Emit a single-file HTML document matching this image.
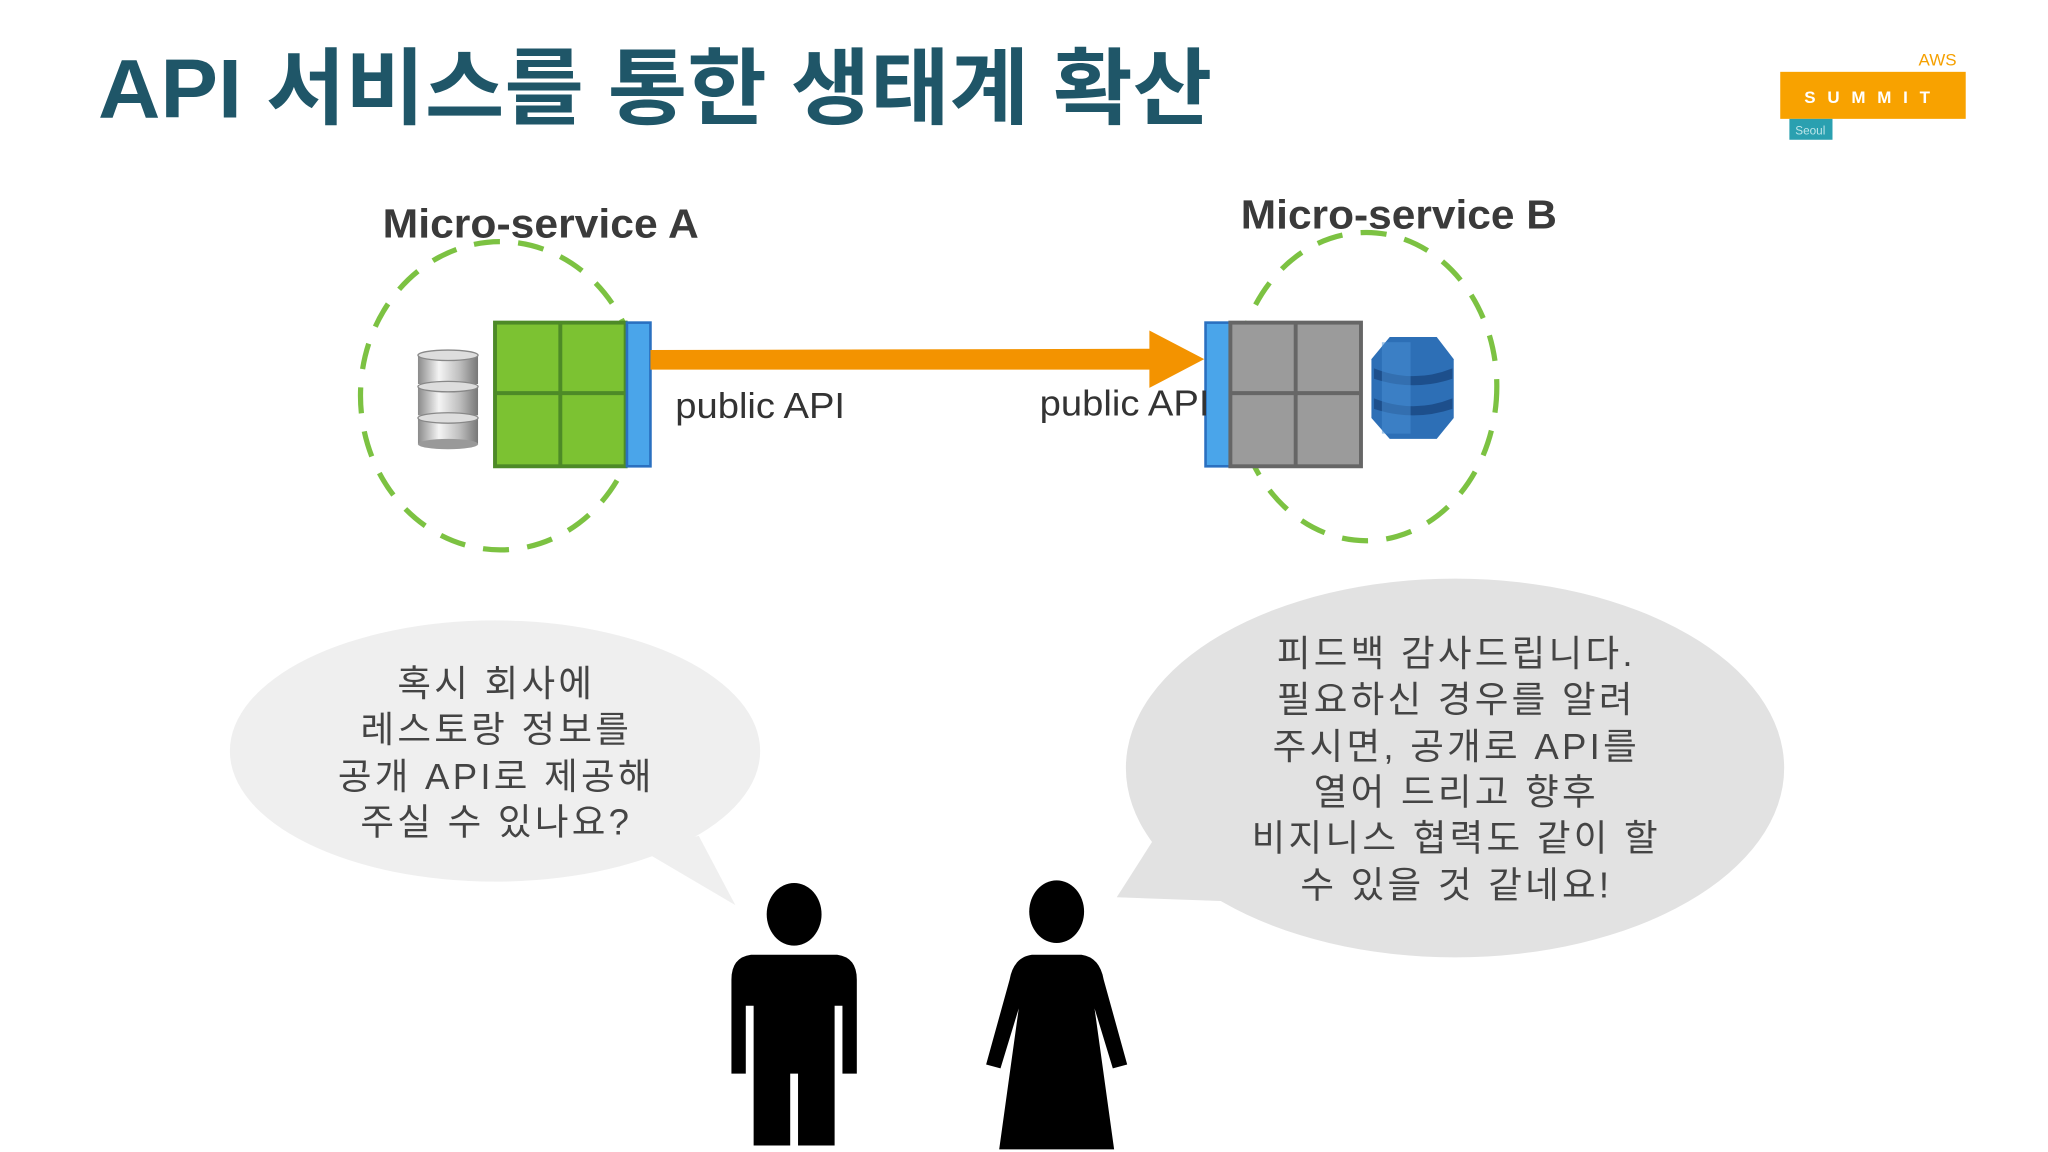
<!DOCTYPE html>
<html><head><meta charset="utf-8"><style>
html,body{margin:0;padding:0;background:#fff;width:2048px;height:1152px;overflow:hidden}
svg{display:block}
</style></head><body>
<svg width="2048" height="1152" viewBox="0 0 1568 882" xmlns="http://www.w3.org/2000/svg">
<defs>
<linearGradient id="cyl" x1="0" x2="1" y1="0" y2="0">
<stop offset="0" stop-color="#8a8a8a"/><stop offset="0.35" stop-color="#f4f4f4"/><stop offset="0.7" stop-color="#bdbdbd"/><stop offset="1" stop-color="#777"/>
</linearGradient>
</defs>
<rect width="1568" height="882" fill="#fff"/>
<!-- title -->
<text x="75" y="90" font-family="'Liberation Sans','Noto Sans CJK KR',sans-serif" font-weight="bold" font-size="64" fill="#1f5668" textLength="853" lengthAdjust="spacingAndGlyphs">API 서비스를 통한 생태계 확산</text>
<!-- logo -->
<text x="1498" y="50" text-anchor="end" font-family="'Liberation Sans',sans-serif" font-size="13" fill="#f5a000">AWS</text>
<rect x="1363" y="55" width="142" height="36" fill="#f8a200"/>
<text x="1434" y="79" text-anchor="middle" font-family="'Liberation Sans',sans-serif" font-weight="bold" font-size="13" fill="#fff" letter-spacing="9">SUMMIT</text>
<rect x="1370" y="91" width="33" height="16" fill="#2aa0b0"/>
<text x="1386" y="103" text-anchor="middle" font-family="'Liberation Sans',sans-serif" font-size="9" fill="#bfe6ea">Seoul</text>
<!-- labels -->
<text x="293" y="182" font-family="'Liberation Sans',sans-serif" font-weight="bold" font-size="31" fill="#3a3a3a" textLength="242" lengthAdjust="spacingAndGlyphs">Micro-service A</text>
<text x="950" y="175" font-family="'Liberation Sans',sans-serif" font-weight="bold" font-size="31" fill="#3a3a3a" textLength="242" lengthAdjust="spacingAndGlyphs">Micro-service B</text>
<!-- circles -->
<ellipse cx="383" cy="303" rx="107" ry="118" fill="none" stroke="#7cc242" stroke-width="4" stroke-dasharray="20,14"/>
<ellipse cx="1046" cy="296" rx="100" ry="118" fill="none" stroke="#7cc242" stroke-width="4" stroke-dasharray="20,14"/>
<!-- db cylinders -->
<g>
<rect x="320" y="272" width="46" height="22" fill="url(#cyl)"/><ellipse cx="343" cy="272" rx="23" ry="4" fill="#ddd" stroke="#888"/>
<rect x="320" y="296" width="46" height="22" fill="url(#cyl)"/><ellipse cx="343" cy="296" rx="23" ry="4" fill="#ddd" stroke="#888"/>
<rect x="320" y="320" width="46" height="20" fill="url(#cyl)"/><ellipse cx="343" cy="320" rx="23" ry="4" fill="#ddd" stroke="#888"/>
<ellipse cx="343" cy="340" rx="23" ry="4" fill="#999"/>
</g>
<!-- green box -->
<rect x="379" y="247" width="100" height="110" fill="#7cc232" stroke="#4d8a27" stroke-width="3"/>
<line x1="429" y1="247" x2="429" y2="357" stroke="#4d8a27" stroke-width="3"/>
<line x1="379" y1="301" x2="479" y2="301" stroke="#4d8a27" stroke-width="3"/>
<rect x="480" y="247" width="18" height="110" fill="#4aa5ea" stroke="#2a70c0" stroke-width="2"/>
<!-- arrow -->
<polygon points="498,268 880,267 880,253 922,275 880,297 880,283 498,283" fill="#f39300"/>
<!-- gray box -->
<rect x="923" y="247" width="19" height="110" fill="#4aa5ea" stroke="#2a70c0" stroke-width="2"/>
<rect x="942" y="247" width="100" height="110" fill="#9b9b9b" stroke="#666" stroke-width="3"/>
<line x1="992" y1="247" x2="992" y2="357" stroke="#666" stroke-width="3"/>
<line x1="942" y1="301" x2="1042" y2="301" stroke="#666" stroke-width="3"/>
<!-- dynamo -->
<g>
<path d="M1064,258 L1100,258 L1113,275 L1113,320 L1100,336 L1064,336 L1050,320 L1050,275 Z" fill="#2d6fb6"/>
<path d="M1052,282 Q1082,294 1112,282 L1112,290 Q1082,300 1052,290 Z" fill="#1d4f8c"/>
<path d="M1052,305 Q1082,317 1112,305 L1112,313 Q1082,323 1052,313 Z" fill="#1d4f8c"/>
<rect x="1058" y="262" width="22" height="70" fill="#4a8fd4" opacity="0.5"/>
</g>
<text x="517" y="320" font-family="'Liberation Sans',sans-serif" font-size="28" fill="#333" textLength="130" lengthAdjust="spacingAndGlyphs">public API</text>
<text x="796" y="318" font-family="'Liberation Sans',sans-serif" font-size="28" fill="#333" textLength="130" lengthAdjust="spacingAndGlyphs">public API</text>
<!-- bubbles -->
<ellipse cx="379" cy="575" rx="203" ry="100" fill="#efefef"/>
<polygon points="490,650 535,640 563,693" fill="#efefef"/>
<ellipse cx="1114" cy="588" rx="252" ry="145" fill="#e2e2e2"/>
<polygon points="885,640 940,690 855,687" fill="#e2e2e2"/>
<g font-family="'Liberation Sans','Noto Sans CJK KR',sans-serif" font-size="28" fill="#444" text-anchor="middle" letter-spacing="2.5">
<text x="380" y="533">혹시 회사에</text>
<text x="380" y="568">레스토랑 정보를</text>
<text x="380" y="604">공개 API로 제공해</text>
<text x="380" y="639">주실 수 있나요?</text>
<text x="1115" y="510">피드백 감사드립니다.</text>
<text x="1115" y="545">필요하신 경우를 알려</text>
<text x="1115" y="581">주시면, 공개로 API를</text>
<text x="1115" y="616">열어 드리고 향후</text>
<text x="1115" y="651">비지니스 협력도 같이 할</text>
<text x="1115" y="687">수 있을 것 같네요!</text>
</g>
<!-- people -->
<ellipse cx="608" cy="700" rx="21" ry="24" fill="#000"/>
<path d="M575,731 Q560,733 560,750 L560,822 L571,822 L571,770 L577,770 L577,877 L605,877 L605,822 L611,822 L611,877 L639,877 L639,770 L645,770 L645,822 L656,822 L656,750 Q656,733 641,731 Z" fill="#000"/>
<ellipse cx="809" cy="698" rx="21" ry="24" fill="#000"/>
<path d="M790,731 Q776,733 773,750 L755,815 L766,818 L780,772 L765,880 L853,880 L838,772 L852,818 L863,815 L845,750 Q842,733 828,731 Z" fill="#000"/>
</svg>
</body></html>
